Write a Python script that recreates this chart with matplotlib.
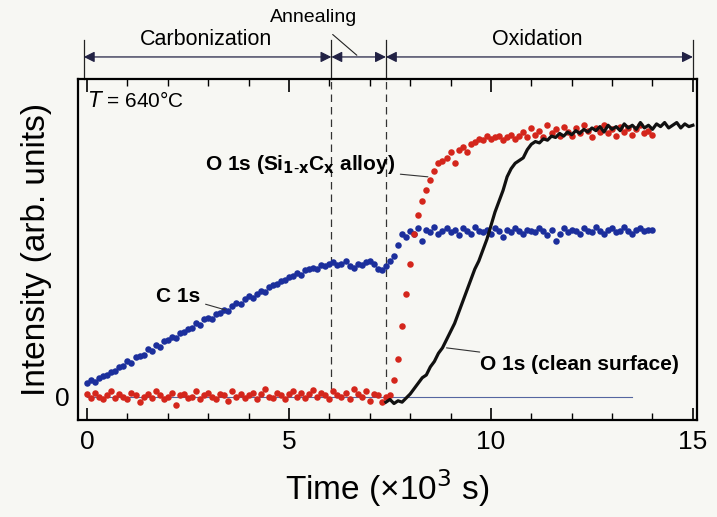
import numpy as np
import matplotlib.pyplot as plt
import matplotlib.transforms as mtransforms

plt.rcParams['font.family'] = ['Liberation Sans Narrow', 'Liberation Sans', 'DejaVu Sans']

# C 1s (blue dots), sampled every 0.1 ks from 0 to 14.0
c1s_t = np.round(np.arange(0, 141) * 0.1, 1)
c1s_y = [0.05, 0.06, 0.055, 0.07, 0.075, 0.08, 0.09, 0.095, 0.11, 0.115,
         0.13, 0.125, 0.145, 0.15, 0.155, 0.175, 0.17, 0.19, 0.185, 0.205,
         0.21, 0.22, 0.215, 0.235, 0.24, 0.25, 0.255, 0.27, 0.265, 0.285,
         0.29, 0.285, 0.305, 0.31, 0.32, 0.315, 0.335, 0.345, 0.34, 0.36,
         0.37, 0.365, 0.38, 0.39, 0.385, 0.405, 0.41, 0.415, 0.425, 0.43,
         0.44, 0.445, 0.455, 0.45, 0.465, 0.47, 0.475, 0.47, 0.485, 0.48,
         0.49, 0.495, 0.485, 0.49, 0.5, 0.48, 0.475, 0.49, 0.485, 0.495,
         0.5, 0.49, 0.47, 0.465, 0.48, 0.5, 0.52, 0.56, 0.6, 0.59,
         0.61, 0.6, 0.62, 0.575, 0.615, 0.605, 0.625, 0.6, 0.61, 0.62,
         0.605, 0.615, 0.595, 0.62, 0.61, 0.6, 0.625, 0.61, 0.605, 0.615,
         0.6, 0.62, 0.61, 0.59, 0.615, 0.605, 0.62, 0.61, 0.6, 0.615,
         0.61, 0.605, 0.62, 0.61, 0.595, 0.615, 0.575, 0.6, 0.62, 0.605,
         0.615, 0.61, 0.6, 0.62, 0.61, 0.605, 0.625, 0.61, 0.6, 0.615,
         0.62, 0.605, 0.61, 0.625, 0.61, 0.6, 0.615, 0.62, 0.61, 0.615,
         0.615]

# O 1s on Si(1-x)C(x) alloy (red dots), every 0.1 ks from 0 to 14.0
alloy_t = np.round(np.arange(0, 141) * 0.1, 1)
alloy_y = [0.01, -0.005, 0.015, 0.0, -0.01, 0.005, 0.02, -0.005, 0.01, 0.0,
           -0.01, 0.015, 0.005, -0.02, 0.0, 0.01, -0.005, 0.02, 0.005, -0.01,
           0.0, 0.015, -0.03, 0.005, 0.01, -0.005, 0.0, 0.02, -0.01, 0.005,
           0.015, 0.0, -0.01, 0.01, 0.005, -0.015, 0.02, 0.0, 0.01, -0.005,
           0.005, 0.015, -0.01, 0.01, 0.03, 0.0, -0.005, 0.015, 0.005, -0.01,
           0.01, 0.02, 0.0, 0.015, -0.005, 0.01, 0.025, 0.0, 0.015, 0.005,
           -0.01, 0.02, 0.005, 0.0, 0.015, -0.01, 0.03, 0.01, 0.0, 0.02,
           -0.015, 0.01, 0.005, -0.02, 0.0, 0.005, 0.06, 0.14, 0.26, 0.38,
           0.49, 0.6, 0.67, 0.72, 0.76, 0.8, 0.83, 0.86, 0.87, 0.88,
           0.9, 0.86, 0.91, 0.92, 0.9, 0.93, 0.94, 0.95, 0.945, 0.96,
           0.95, 0.955, 0.96, 0.945, 0.955, 0.965, 0.95, 0.96, 0.975, 0.955,
           0.99, 0.965, 0.98, 0.955, 1.0, 0.97, 0.985, 0.96, 0.995, 0.975,
           0.96, 0.99, 0.97, 1.0, 0.98, 0.955, 0.99, 0.975, 1.0, 0.97,
           0.985, 0.96, 0.995, 0.975, 0.99, 0.965, 0.985, 1.0, 0.97, 0.98,
           0.965]

# O 1s on clean surface (black line), every 0.1 ks from 7.4 to 15.0
clean_t = np.round(7.4 + np.arange(0, 77) * 0.1, 1)
clean_y = [-0.02, -0.01, -0.025, -0.015, -0.02, -0.005, 0.01, 0.03, 0.05, 0.07,
           0.08, 0.11, 0.13, 0.16, 0.18, 0.21, 0.24, 0.27, 0.31, 0.35,
           0.39, 0.43, 0.47, 0.5, 0.54, 0.58, 0.63, 0.68, 0.72, 0.76,
           0.81, 0.84, 0.86, 0.87, 0.88, 0.91, 0.93, 0.94, 0.935, 0.95,
           0.945, 0.96, 0.955, 0.97, 0.96, 0.975, 0.965, 0.98, 0.97, 0.985,
           0.975, 0.99, 0.98, 0.995, 0.975, 1.0, 0.985, 0.995, 0.98, 1.005,
           0.99, 1.0, 0.985, 1.01, 0.99, 1.0, 0.985, 1.005, 0.995, 1.01,
           0.99, 1.0, 1.01, 0.99, 1.005, 0.995, 1.0]

# process stages (ks)
stage_edges = [-0.08, 6.05, 7.4, 15.0]
stage_names = ['Carbonization', 'Annealing', 'Oxidation']

blue = '#1c2f9c'
red = '#d4261c'
bg = '#f7f7f3'

fig = plt.figure(figsize=(7.17, 5.17), dpi=100, facecolor=bg)
ax = fig.add_axes([0.109, 0.188, 0.863, 0.659], facecolor=bg)

ax.plot([0, 13.5], [0, 0], color='#5566a0', lw=0.8, zorder=1)
ax.scatter(c1s_t, c1s_y, s=22, color=blue, lw=0, zorder=3)
ax.scatter(alloy_t, alloy_y, s=22, color=red, lw=0, zorder=3)
ax.plot(clean_t, clean_y, color='#111111', lw=2.3, zorder=4)

ax.set_xlim(-0.22, 15.1)
ax.set_ylim(-0.085, 1.17)

for xe in stage_edges[1:3]:
    ax.plot([xe, xe], [0.03, 1.17], color='#333333', lw=0.9,
            ls=(0, (6, 4)), zorder=2)

# ticks
ax.set_xticks([0, 5, 10, 15])
ax.set_xticks(np.arange(0, 16, 1), minor=True)
ax.tick_params(axis='x', which='both', direction='in', top=True, labelsize=19, pad=7)
ax.tick_params(axis='x', which='major', length=9, width=1.2)
ax.tick_params(axis='x', which='minor', length=5, width=1.0)
ax.set_yticks([0])
ax.tick_params(axis='y', length=0, labelsize=19, pad=6)
for s in ax.spines.values():
    s.set_linewidth(1.6)

ax.set_xlabel('Time (\u00d710$^{3}$ s)', fontsize=24, labelpad=10)
ax.set_ylabel('Intensity (arb. units)', fontsize=24, labelpad=2)

# stage arrows above the plot
trans = mtransforms.blended_transform_factory(ax.transData, ax.transAxes)
for xe in stage_edges:
    ax.plot([xe, xe], [1.0, 1.115], color='#222222', lw=0.9,
            transform=trans, clip_on=False)
for i in range(3):
    ax.annotate('', xy=(stage_edges[i + 1], 1.065), xytext=(stage_edges[i], 1.065),
                xycoords=trans, textcoords=trans,
                arrowprops=dict(arrowstyle='<|-|>', color='#222244', lw=0.9,
                                mutation_scale=16, shrinkA=0, shrinkB=0))
ax.text(2.95, 1.115, stage_names[0], transform=trans, ha='center', va='center', fontsize=15.5)
ax.text(11.15, 1.115, stage_names[2], transform=trans, ha='center', va='center', fontsize=15.5)
ax.annotate(stage_names[1], xy=(6.68, 1.07), xytext=(5.6, 1.18),
            xycoords=trans, textcoords=trans, ha='center', va='center', fontsize=14,
            arrowprops=dict(arrowstyle='-', color='#222222', lw=0.8,
                            shrinkA=6, shrinkB=0))

# labels
ax.text(0.02, 1.09, '$T$ = 640\u00b0C', fontsize=15, ha='left', va='center')
ax.annotate('O 1s (Si$_{\\mathbf{1\\text{-}x}}$C$_\\mathbf{x}$ alloy)', xy=(8.44, 0.81),
            xytext=(7.62, 0.855), ha='right', va='center', fontsize=15, fontweight='bold',
            arrowprops=dict(arrowstyle='-', color='#333333', lw=0.8, shrinkA=2, shrinkB=0))
ax.annotate('C 1s', xy=(3.42, 0.32), xytext=(2.8, 0.37), ha='right', va='center',
            fontsize=15, fontweight='bold',
            arrowprops=dict(arrowstyle='-', color='#333333', lw=0.8, shrinkA=2, shrinkB=0))
ax.annotate('O 1s (clean surface)', xy=(8.9, 0.18), xytext=(9.73, 0.118),
            ha='left', va='center', fontsize=15, fontweight='bold',
            arrowprops=dict(arrowstyle='-', color='#333333', lw=0.8, shrinkA=2, shrinkB=0))

fig.savefig('out.png', dpi=100, facecolor=bg)
